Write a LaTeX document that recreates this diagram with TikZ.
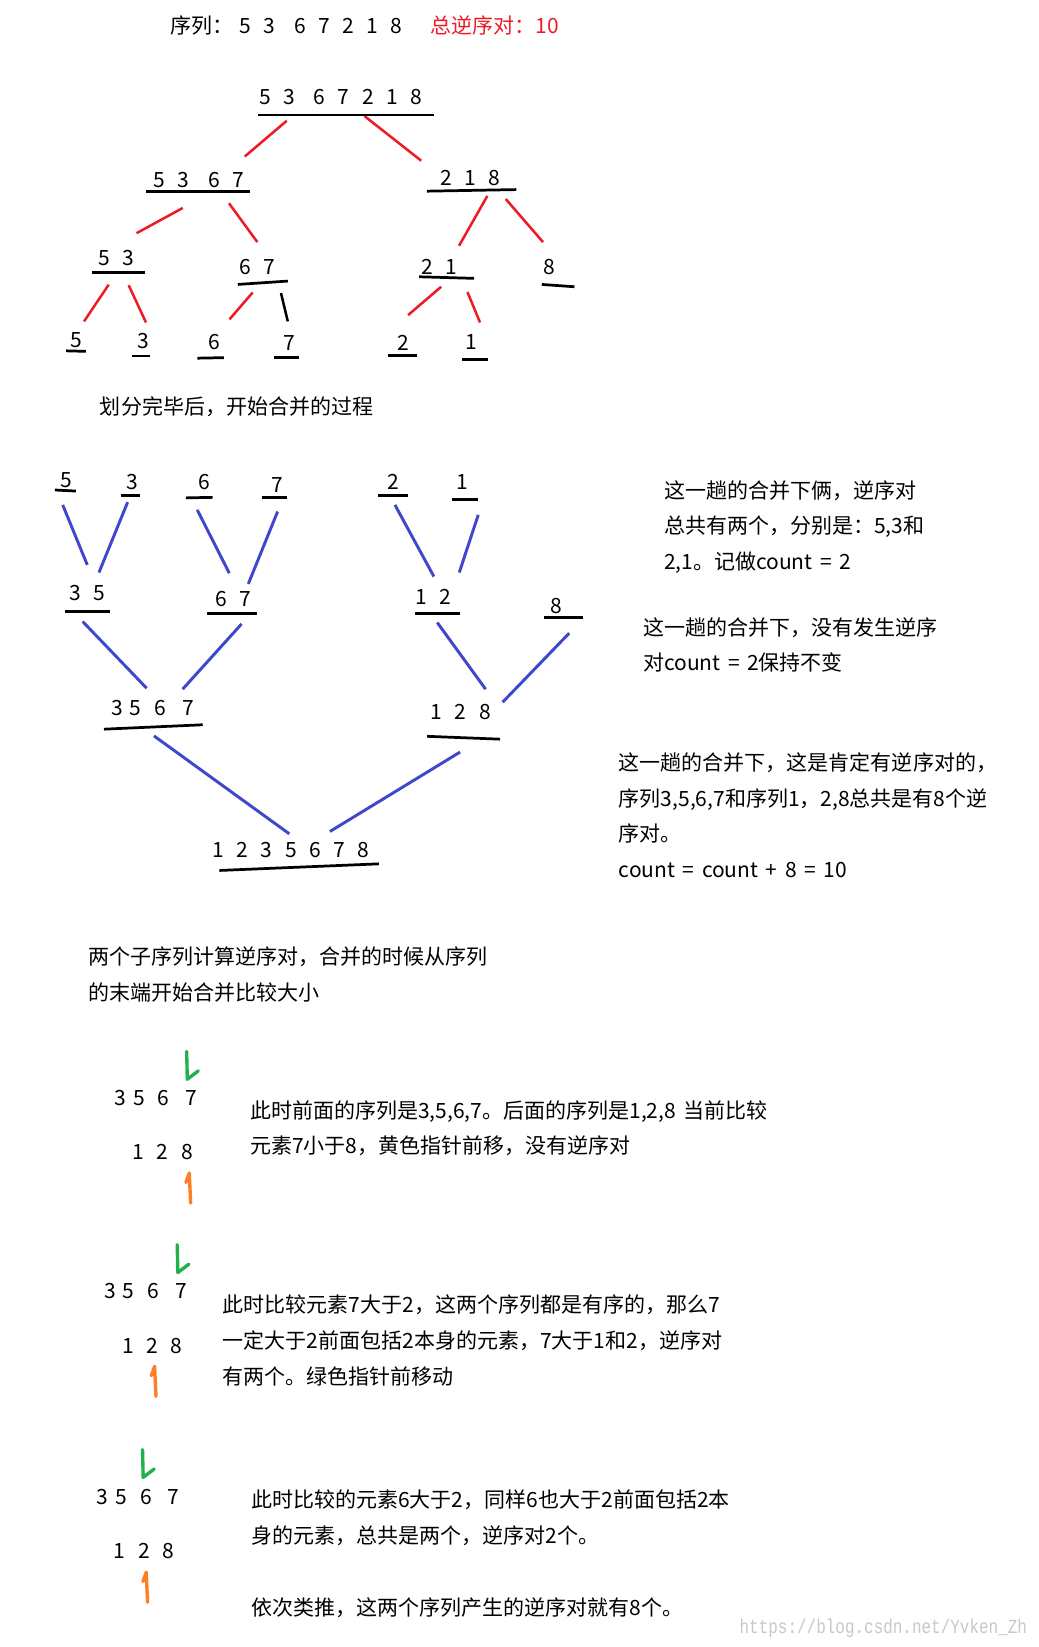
\documentclass[tikz,border=0pt]{standalone}
\usepackage{fontspec}
\newfontfamily\cjk[WordSpace=1.6]{Noto Sans CJK SC}
\newfontfamily\markfont[FakeStretch=0.8]{Liberation Mono}
\definecolor{cutred}{HTML}{ED1C24}
\definecolor{mergeblue}{HTML}{3F48CC}
\definecolor{ptrgreen}{HTML}{22B14C}
\definecolor{ptrorange}{HTML}{FF7F27}
\definecolor{markgray}{HTML}{C8C8C8}
\newcommand{\dg}[2][23pt]{\makebox[#1]{#2}}
\newcommand{\fourrow}{\dg[17.5pt]{3}\dg[17.5pt]{5}\hspace{6pt}\dg[17.5pt]{6}\hspace{9pt}\dg[17.5pt]{7}}

\begin{document}
\begin{tikzpicture}[x=1pt,y=-1pt,
  every node/.style={font=\cjk\fontsize{20}{34}\selectfont,inner sep=0pt},
  txt/.style={align=left,anchor=base west},
  bar/.style={line width=2.6pt},
  cut/.style={cutred,line width=2.4pt},
  mrg/.style={mergeblue,line width=2.8pt},
  gptr/.style={ptrgreen,line width=3.2pt,line join=round,line cap=round},
  optr/.style={ptrorange,line width=3.2pt,line join=round,line cap=round}]
  \fill[white] (0,0) rectangle (989,1568);
  \useasboundingbox (0,0) rectangle (989,1568);

  % heading
  \node[txt] (title) at (162,31.5) {序列：\dg[22.8pt]{5}\dg[22.8pt]{3}\hspace{7pt}\dg[22.8pt]{6}\dg[22.8pt]{7}\dg[22.8pt]{2}\dg[22.8pt]{1}\dg[22.8pt]{8}};
  \node[txt,text=cutred] (total) at (410,31.5) {总逆序对：10};

  % division tree
  \node (t0) at (324.5,92) {\dg5\dg3\hspace{5.5pt}\dg6\dg7\dg2\dg1\dg8};
  \node (t1) at (189.5,171) {\dg5\dg3\hspace{6pt}\dg6\dg7};
  \node (t2) at (448,169) {\dg2\dg1\dg8};
  \node (t3) at (111,246) {\dg5\dg3};
  \node (t4) at (245,254) {\dg6\dg7};
  \node (t5) at (418,254) {\dg2\dg1};
  \node (t6) at (523,254) {8};
  \node (t7) at (72.5,324) {5};
  \node (t8) at (136.5,324.5) {3};
  \node (t9) at (204.5,325.5) {6};
  \node (t10) at (275.5,327) {7};
  \node (t11) at (384,326) {2};
  \node (t12) at (449,325.5) {1};

  \foreach \p/\sx/\sy/\c/\ex/\ey in {t0/-51.5/23/t1/43.5/-22, t0/22.5/18.5/t2/-47/-16,
      t1/-15.5/27/t3/19/-24, t1/28.5/22.5/t4/0/-23.5, t2/16/17.5/t5/19/-20,
      t2/33.5/20.5/t6/-6/-23.5, t3/-7.5/25/t7/7.5/-18, t3/11.5/25.5/t8/2.5/-17.5,
      t4/-4.5/24.5/t9/14/-21.5, t5/2/19/t11/4.5/-26, t5/27/24/t12/8/-18.5}
    \draw[cut] ([shift={(\sx,\sy)}]\p.center) -- ([shift={(\ex,\ey)}]\c.center);
  \draw[bar,line width=2.4pt] ([shift={(22.5,25)}]t4.center) -- ([shift={(-1.5,-21)}]t10.center);

  \node[txt] (divide) at (95,394.6) {划分完毕后，开始合并的过程};

  % merge tree
  \node (m0) at (62.8,457) {5};
  \node (m1) at (126.3,458.5) {3};
  \node (m2) at (194.2,458.5) {6};
  \node (m3) at (264.3,461.6) {7};
  \node (m4) at (374.4,458.5) {2};
  \node (m5) at (440,458.5) {1};
  \node (m6) at (83.4,564.8) {\dg3\dg5};
  \node (m7) at (222.1,570.5) {\dg6\dg7};
  \node (m8) at (412.2,567.9) {\dg1\dg2};
  \node (m9) at (529.9,577.4) {8};
  \node (m10) at (145.5,674.2) {\fourrow};
  \node (m11) at (438.6,677.4) {\dg1\dg2\dg8};
  \node (m12) at (276.9,809) {\dg1\dg2\dg3\dg5\dg6\dg7\dg8};

  \foreach \p/\sx/\sy/\c/\ex/\ey in {m0/-3.1/23.7/m6/-0.3/-27, m1/-4.8/19.6/m6/10.8/-19.7,
      m2/-6.4/26.9/m7/-3.8/-24.8, m3/0/25.4/m7/14.3/-14.6, m4/1.6/22.2/m8/0.9/-19,
      m5/15.3/31.7/m8/25/-22.8, m6/-4.7/26.9/m10/-5.9/-19, m7/7.9/23.5/m10/28.4/-18.1,
      m8/4.1/24.8/m11/23.7/-21.3, m9/12/25.4/m11/39.9/-8.9, m10/1.1/26.4/m12/-1.5/-15.2,
      m11/-0.6/38.6/m12/37.2/-17.4}
    \draw[mrg] ([shift={(\sx,\sy)}]\p.center) -- ([shift={(\ex,\ey)}]\c.center);

  % underlines
  \foreach \xa/\ya/\xb/\yb in {246/109.5/413/109.5, 139/182.5/238/182.5, 406.5/182/491.5/180.5,
      88/259.7/138.5/259.7, 226.4/270.8/274/267.6, 399/263.5/451.3/265, 515.8/270.8/546.9/273,
      63/334/81.7/334.5, 125.6/339/142.9/339, 187.9/341/213.2/340.5, 260.8/340.3/285/340.3,
      369.6/338.2/397.2/338.2, 440/342/464.2/342,
      52.3/466.5/72.3/467.5, 115.2/472/133.3/472, 177/474/202.4/473.5, 249.7/473.4/273.5/473.4,
      360/471.5/388/471.5, 430.2/475.3/454.7/475.3, 61.9/582.2/104.7/582.2,
      196.7/584.4/244.3/584.4, 395/583.8/437.9/583.8, 517.8/587.6/554.6/587.6,
      99/694.2/193/690, 406.7/701/476/703.7, 208.8/828.7/360.7/822.4}
    \draw[bar] (\xa,\ya) -- (\xb,\yb);

  % notes on the right (base = last line)
  \node[txt] (note1) at (632,542.3) {这一趟的合并下俩，逆序对\\总共有两个，分别是：5,3和\\2,1。记做count = 2};
  \node[txt] (note2) at (612,638.6) {这一趟的合并下，没有发生逆序\\对count = 2保持不变};
  \node[txt] (note3) at (589,835.6) {这一趟的合并下，这是肯定有逆序对的，\\序列3,5,6,7和序列1，2,8总共是有8个逆\\序对。\\count = count + 8 = 10};

  \node[txt] (rule) at (84,952.6) {两个子序列计算逆序对，合并的时候从序列\\的末端开始合并比较大小};

  % merge steps
  \node (a1) at (148.6,1045.4) {\fourrow};
  \node (b1) at (155,1097) {\dg1\dg2\dg8};
  \node (a2) at (138.6,1229.4) {\fourrow};
  \node (b2) at (145,1281) {\dg1\dg2\dg8};
  \node (a3) at (131.6,1425.4) {\fourrow};
  \node (b3) at (137,1477) {\dg1\dg2\dg8};

  \foreach \dx/\dy in {0/0,-9/184,-42/379}
    \draw[gptr,shift={(\dx,\dy)}] (177.7,1001) -- (178.3,1027.5) -- (188.8,1019.5);
  \foreach \dx/\dy in {0/0,-33/184,-41/380}
    \draw[optr,shift={(\dx,\dy)}] (177,1125.7) -- (180.2,1116.8) -- (181.5,1145.4);

  \node[txt] (step1) at (238,1098.6) {此时前面的序列是3,5,6,7。后面的序列是1,2,8 当前比较\\元素7小于8，黄色指针前移，没有逆序对};
  \node[txt] (step2) at (212,1317.6) {此时比较元素7大于2，这两个序列都是有序的，那么7\\一定大于2前面包括2本身的元素，7大于1和2，逆序对\\有两个。绿色指针前移动};
  \node[txt] (step3) at (239,1537.6) {此时比较的元素6大于2，同样6也大于2前面包括2本\\身的元素，总共是两个，逆序对2个。\\[34pt]依次类推，这两个序列产生的逆序对就有8个。};

  \node[anchor=base east,font=\markfont\fontsize{19}{19}\selectfont,text=markgray] (wm) at (978,1555) {https://blog.csdn.net/Yvken\_Zh};
\end{tikzpicture}
\end{document}
